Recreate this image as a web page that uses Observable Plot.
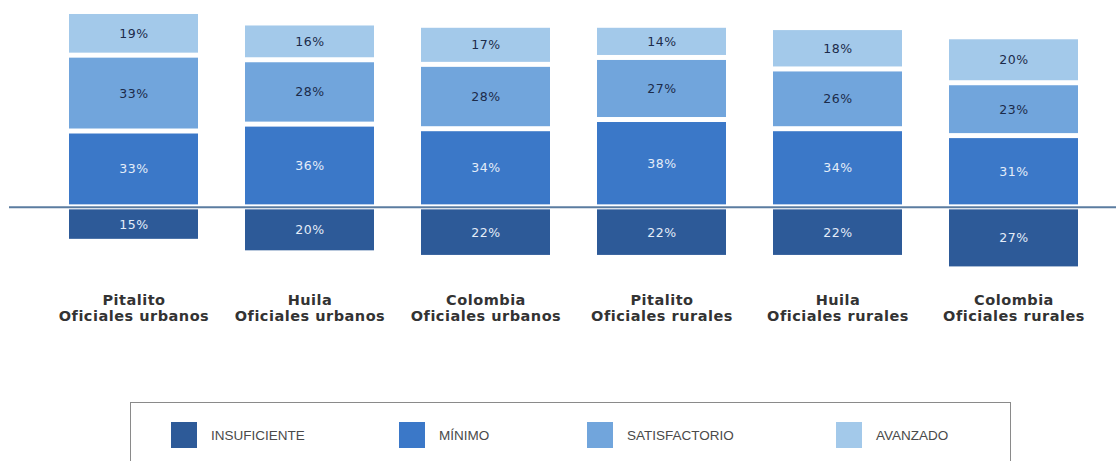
<!DOCTYPE html>
<html>
<head>
<meta charset="utf-8">
<script src="https://cdn.jsdelivr.net/npm/d3@7"></script>
<script src="https://cdn.jsdelivr.net/npm/@observablehq/plot@0.6"></script>
<style>
  html, body { margin: 0; padding: 0; background: #fff; overflow: hidden; width: 1116px; height: 461px; }
  #chart svg { display: block; }
  #legend { position: absolute; left: 130px; top: 402px; width: 881px; height: 90px; border: 1px solid #8a8a8a; box-sizing: border-box; background: #fff; }
  .item { position: absolute; top: 19px; height: 26px; display: flex; align-items: center; font-family: "Liberation Sans", sans-serif; font-size: 13.5px; color: #4a4a4a; }
  .sw { width: 26px; height: 26px; margin-right: 14px; }
</style>
</head>
<body>
<div id="chart"></div>
<div id="legend"></div>
<script>
const places = ["Pitalito", "Huila", "Colombia", "Pitalito", "Huila", "Colombia"];
const groups = ["Oficiales urbanos", "Oficiales urbanos", "Oficiales urbanos", "Oficiales rurales", "Oficiales rurales", "Oficiales rurales"];
const levels = ["INSUFICIENTE", "MÍNIMO", "SATISFACTORIO", "AVANZADO"];
const levelColors = ["#2d5a98", "#3b78c8", "#71a5dc", "#a3c9ea"];
const insuficiente = [15, 20, 22, 22, 22, 27];
const minimo = [33, 36, 34, 38, 34, 31];
const satisfactorio = [33, 28, 28, 27, 26, 23];
const avanzado = [19, 16, 17, 14, 18, 20];

const categories = places.map((p, i) => p + "\n" + groups[i]);
const series = [insuficiente, minimo, satisfactorio, avanzado];
const rows = [];
levels.forEach((lvl, li) => {
  categories.forEach((c, ci) => {
    const v = series[li][ci];
    rows.push({cat: c, level: lvl, value: v, signed: li === 0 ? -v : v, dark: li < 2});
  });
});

const stackOpts = {x: "cat", y: "signed", text: d => d.value + "%"};

const chart = Plot.plot({
  width: 1116,
  height: 345,
  marginLeft: 24,
  marginRight: 18,
  marginTop: 0,
  marginBottom: 60,
  style: {fontFamily: "DejaVu Sans, sans-serif", background: "#fff"},
  x: {domain: categories, paddingInner: 0.265, paddingOuter: 0.17, align: 0.7, label: null},
  y: {domain: [-34, 90], axis: null},
  color: {domain: levels, range: levelColors},
  marks: [
    Plot.ruleY([0], {stroke: "#5b7ca0", strokeWidth: 2, insetLeft: -15, insetRight: -18}),
    Plot.barY(rows, Plot.stackY({x: "cat", y: "signed", fill: "level", insetTop: 2.5, insetBottom: 2.5})),
    Plot.text(rows, Plot.filter(d => d.dark, Plot.stackY({...stackOpts, fill: "#e4edf8", fontSize: 12.5}))),
    Plot.text(rows, Plot.filter(d => !d.dark, Plot.stackY({...stackOpts, fill: "#1c2b4a", fontSize: 12.5}))),
    Plot.axisX({tickSize: 0, tickPadding: 8, fontSize: 14.5, fontWeight: "bold", fill: "#333", lineHeight: 1.12, label: null})
  ]
});
d3.select(chart).selectAll('g[aria-label="x-axis tick label"] text').style("letter-spacing", "0.5px");
d3.select(chart).selectAll('g[aria-label="text"] text').style("letter-spacing", "0.5px");
document.getElementById("chart").appendChild(chart);

const lefts = [40, 268, 456, 705];
const legend = document.getElementById("legend");
levels.forEach((lvl, i) => {
  const it = document.createElement("div");
  it.className = "item";
  it.style.left = lefts[i] + "px";
  const sw = document.createElement("div");
  sw.className = "sw";
  sw.style.background = levelColors[i];
  const tx = document.createElement("span");
  tx.textContent = lvl;
  it.appendChild(sw);
  it.appendChild(tx);
  legend.appendChild(it);
});
</script>
</body>
</html>
